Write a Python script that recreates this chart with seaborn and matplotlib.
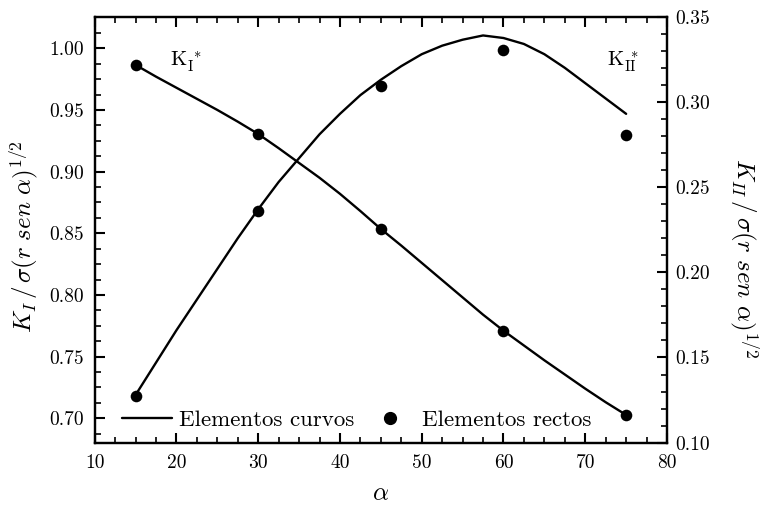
import matplotlib
matplotlib.use("Agg")
import matplotlib.pyplot as plt
import pandas as pd
import seaborn as sns
from matplotlib.lines import Line2D
from matplotlib.ticker import MultipleLocator, FormatStrFormatter

# Finite-element results: straight elements (points) at the computed angles
alpha_pts = [15, 30, 45, 60, 75]
k1_pts = [0.9865, 0.9305, 0.8535, 0.7709, 0.7027]
k2_pts = [0.1276, 0.2362, 0.3095, 0.3305, 0.2806]

# Curved elements (continuous curves)
alpha_curve = [15, 17.5, 20, 22.5, 25, 27.5, 30, 32.5, 35, 37.5, 40, 42.5,
               45, 47.5, 50, 52.5, 55, 57.5, 60, 62.5, 65, 67.5, 70, 72.5, 75]
k1_curve = [0.9865, 0.977, 0.968, 0.959, 0.950, 0.9405, 0.9305, 0.919,
            0.907, 0.895, 0.882, 0.868, 0.8535, 0.840, 0.826, 0.812,
            0.798, 0.784, 0.771, 0.759, 0.747, 0.7355, 0.724, 0.713, 0.7027]
k2_curve = [0.128, 0.147, 0.166, 0.184, 0.202, 0.220, 0.237, 0.253,
            0.267, 0.281, 0.293, 0.304, 0.313, 0.321, 0.328, 0.333,
            0.3365, 0.339, 0.3375, 0.334, 0.328, 0.320, 0.311, 0.302, 0.293]

sns.set_style("ticks")
plt.rcParams["font.family"] = ["cmr10", "DejaVu Serif"]
plt.rcParams["mathtext.fontset"] = "cm"
plt.rcParams["axes.formatter.use_mathtext"] = True
plt.rcParams["axes.linewidth"] = 1.6
for key in ("axes.edgecolor", "axes.labelcolor", "text.color",
            "xtick.color", "ytick.color"):
    plt.rcParams[key] = "black"

pts = pd.DataFrame({"alpha": alpha_pts, "k1": k1_pts, "k2": k2_pts})
crv = pd.DataFrame({"alpha": alpha_curve, "k1": k1_curve, "k2": k2_curve})

fig = plt.figure(figsize=(7.63, 5.05), dpi=100)
ax = fig.add_axes([0.1241, 0.1234, 0.8742 - 0.1241, 0.9669 - 0.1234])
ax2 = ax.twinx()

sns.lineplot(data=crv, x="alpha", y="k1", ax=ax, color="black", lw=1.7)
sns.scatterplot(data=pts, x="alpha", y="k1", ax=ax, color="black", s=70,
                edgecolor="black", linewidth=0, zorder=3)
sns.lineplot(data=crv, x="alpha", y="k2", ax=ax2, color="black", lw=1.7)
sns.scatterplot(data=pts, x="alpha", y="k2", ax=ax2, color="black", s=70,
                edgecolor="black", linewidth=0, zorder=3)

ax.set_xlim(10, 80)
ax.set_ylim(0.6802, 1.0256)
ax2.set_ylim(0.10, 0.35)

ax.xaxis.set_major_locator(MultipleLocator(10))
ax.xaxis.set_minor_locator(MultipleLocator(2.5))
ax.yaxis.set_major_locator(MultipleLocator(0.05))
ax.yaxis.set_minor_locator(MultipleLocator(0.0125))
ax2.yaxis.set_major_locator(MultipleLocator(0.05))
ax2.yaxis.set_minor_locator(MultipleLocator(0.01))
ax.xaxis.set_major_formatter(FormatStrFormatter("%d"))
ax.yaxis.set_major_formatter(FormatStrFormatter("%.2f"))
ax2.yaxis.set_major_formatter(FormatStrFormatter("%.2f"))

ax.tick_params(axis="x", which="both", direction="in", top=True, bottom=True,
               labelsize=14, pad=8)
ax.tick_params(axis="y", which="both", direction="in", left=True, right=False,
               labelsize=14, pad=8)
ax2.tick_params(axis="y", which="both", direction="in", right=True,
                labelsize=14, pad=6)
for a in (ax, ax2):
    a.tick_params(which="major", length=7, width=1.5)
    a.tick_params(which="minor", length=4, width=1.2)

ax.set_xlabel(r"$\alpha$", fontsize=18, labelpad=8)
ax.set_ylabel(r"$K_I\,\mathbf{/\,\sigma(}r\ sen\ \mathbf{\alpha)}^{\mathbf{1/2}}$",
              fontsize=18, va="center")
ax2.set_ylabel(r"$K_{II}\,\mathbf{/\,\sigma(}r\ sen\ \mathbf{\alpha)}^{\mathbf{1/2}}$",
               fontsize=18, rotation=-90, va="center")
ax.yaxis.set_label_coords(-0.125, 0.483)
ax2.yaxis.set_label_coords(1.136, 0.434)

ax.text(19.2, 0.989, r"$\mathrm{K}_{\mathrm{I}}^{\ *}$", fontsize=15,
        ha="left", va="center")
ax.text(72.7, 0.989, r"$\mathrm{K}_{\mathrm{II}}^{\ *}$", fontsize=15,
        ha="left", va="center")

handles = [
    Line2D([], [], color="black", lw=1.7),
    Line2D([], [], color="black", lw=0, marker="o", markersize=8.5),
]
ax.legend(handles, ["Elementos curvos", "Elementos rectos"], loc="lower left",
          ncol=2, frameon=False, fontsize=16.5, handlelength=2.2,
          columnspacing=0.45, handletextpad=0.3, borderaxespad=0,
          bbox_to_anchor=(0.031, 0.008))

fig.savefig("out.png", dpi=100)
